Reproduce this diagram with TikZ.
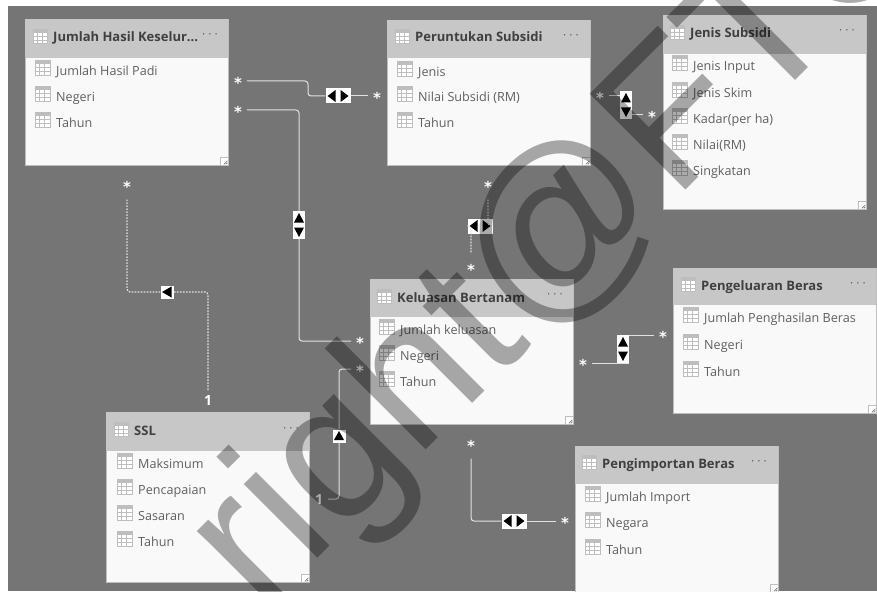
\documentclass[tikz,border=0pt]{standalone}
\usepackage{fontspec}
\setmainfont{Open Sans}
\newfontfamily\wmfont{Liberation Sans}
\newfontfamily\starfont{DejaVu Sans}
\usepackage{xcolor}
\usetikzlibrary{positioning,calc}
\definecolor{canvasgray}{RGB}{117,117,117}
\definecolor{headgray}{RGB}{199,199,199}
\definecolor{bodygray}{RGB}{249,249,249}
\definecolor{titlegray}{RGB}{64,64,64}
\definecolor{fieldgray}{RGB}{96,96,96}
\definecolor{icongray}{RGB}{190,190,190}
\definecolor{relwhite}{RGB}{226,226,226}
\tikzset{
  tablebody/.style={rectangle, anchor=north west, inner sep=0, fill=bodygray, draw=icongray, line width=0.6pt, minimum width=203},
  tablehead/.style={rectangle, anchor=north west, inner sep=0, fill=headgray, minimum width=203},
  sizegrip/.style={rectangle, anchor=south east, inner sep=0, minimum size=8, fill=white, draw=icongray, line width=0.5pt,
    path picture={\draw[fieldgray, line width=0.5pt, shift={(path picture bounding box.center)}] (-0.5,3) -- (3,-0.5) (1.5,3) -- (3,1.5);}},
  tableicon/.style={rectangle, inner sep=0, minimum size=15, yshift=2.5, fill=white, draw=icongray, line width=0.5pt,
    path picture={\begin{scope}[shift={(path picture bounding box.center)}]
      \fill[icongray] (-7.5,-7.5) rectangle (7.5,-3.5);
      \draw[icongray, line width=0.9pt] (-7.5,0) -- (7.5,0) (-7.5,3.7) -- (7.5,3.7) (-2.5,-3.5) -- (-2.5,7.5) (2.5,-3.5) -- (2.5,7.5);
    \end{scope}}},
  titletext/.style={anchor=west, inner sep=0, text height=13, text depth=3, text=titlegray, font=\fontsize{13}{14}\selectfont\bfseries, label={[tableicon, minimum size=14, yshift=-2, label distance=6]left:{}}},
  fieldtext/.style={anchor=west, inner sep=0, text height=14, text depth=3, text=fieldgray, font=\fontsize{12.6}{14}\selectfont, label={[tableicon, label distance=6]left:{}}},
  dotsmark/.style={inner sep=0, text=fieldgray, font=\fontsize{12}{12}\selectfont},
  cardstar/.style={inner sep=0, outer xsep=5pt, outer ysep=7pt, text height=15, text depth=0, text=white, font=\fontsize{15}{15}\starfont\bfseries},
  cardone/.style={inner sep=0, outer sep=5pt, text=white, font=\fontsize{14}{14}\selectfont\bfseries},
  relline/.style={draw=relwhite, line width=1pt, rounded corners=3pt},
  reldot/.style={relline, dash pattern=on 1.6pt off 1.4pt, line width=1.2pt},
  markboth/.style={rectangle, inner sep=0, fill=white, minimum width=25, minimum height=15,
    path picture={\fill[black, shift={(path picture bounding box.center)}] (-10.5,0) -- (-2.5,-6) -- (-2.5,6) -- cycle (10.5,0) -- (2.5,-6) -- (2.5,6) -- cycle;}},
  markvert/.style={rectangle, inner sep=0, fill=white, minimum width=12, minimum height=28,
    path picture={\fill[black, shift={(path picture bounding box.center)}] (0,-12) -- (-5,-2.5) -- (5,-2.5) -- cycle (0,12) -- (-5,2.5) -- (5,2.5) -- cycle;}},
  markleft/.style={rectangle, inner sep=0, fill=white, minimum size=13,
    path picture={\fill[black, shift={(path picture bounding box.center)}] (-5,0) -- (4.5,-5.5) -- (4.5,5.5) -- cycle;}},
  markup/.style={rectangle, inner sep=0, fill=white, minimum size=13,
    path picture={\fill[black, shift={(path picture bounding box.center)}] (0,-5) -- (-5,4) -- (5,4) -- cycle;}},
}

\begin{document}
\begin{tikzpicture}[x=1pt, y=-1pt]
    \useasboundingbox (0,0) rectangle (877,591);
    \fill[canvasgray] (8,6) rectangle (877,591);

    % Define tables
    \node [tablebody, minimum height=146] (hasil) at (25,19) {};
    \node [tablehead, minimum height=39] (hasilhead) at (25,19) {};
    \node [sizegrip] (hasilgrip) at (hasil.south east) {};
    \node [titletext] (hasiltitle) at (53,37) {Jumlah Hasil Keselur...};
    \node [dotsmark] (hasildots) at (210,36) {· · ·};
    \node [fieldtext] (hasil1) at (56,70) {Jumlah Hasil Padi};
    \node [fieldtext] (hasil2) at (56,96) {Negeri};
    \node [fieldtext] (hasil3) at (56,122) {Tahun};

    \node [tablebody, minimum height=145] (agih) at (387,20) {};
    \node [tablehead, minimum height=38] (agihhead) at (387,20) {};
    \node [sizegrip] (agihgrip) at (agih.south east) {};
    \node [titletext] (agihtitle) at (415,37) {Peruntukan Subsidi};
    \node [dotsmark] (agihdots) at (571,37) {· · ·};
    \node [fieldtext] (agih1) at (418,71) {Jenis};
    \node [fieldtext] (agih2) at (418,96) {Nilai Subsidi (RM)};
    \node [fieldtext] (agih3) at (418,122) {Tahun};

    \node [tablebody, minimum height=194] (jenis) at (663,15) {};
    \node [tablehead, minimum height=39] (jenishead) at (663,15) {};
    \node [sizegrip] (jenisgrip) at (jenis.south east) {};
    \node [titletext] (jenistitle) at (690,33) {Jenis Subsidi};
    \node [dotsmark] (jenisdots) at (847,32) {· · ·};
    \node [fieldtext] (jenis1) at (693,65) {Jenis Input};
    \node [fieldtext] (jenis2) at (693,92) {Jenis Skim};
    \node [fieldtext] (jenis3) at (693,118) {Kadar(per ha)};
    \node [fieldtext] (jenis4) at (693,144) {Nilai(RM)};
    \node [fieldtext] (jenis5) at (693,170) {Singkatan};

    \node [tablebody, minimum height=145] (luas) at (370,279) {};
    \node [tablehead, minimum height=38] (luashead) at (370,279) {};
    \node [sizegrip] (luasgrip) at (luas.south east) {};
    \node [titletext] (luastitle) at (397,297) {Keluasan Bertanam};
    \node [dotsmark] (luasdots) at (555,296) {· · ·};
    \node [fieldtext] (luas1) at (400,329) {Jumlah keluasan};
    \node [fieldtext] (luas2) at (400,355) {Negeri};
    \node [fieldtext] (luas3) at (400,381) {Tahun};

    \node [tablebody, minimum height=145] (keluar) at (673,268) {};
    \node [tablehead, minimum height=37] (keluarhead) at (673,268) {};
    \node [sizegrip] (keluargrip) at (keluar.south east) {};
    \node [titletext] (keluartitle) at (701,285) {Pengeluaran Beras};
    \node [dotsmark] (keluardots) at (858,285) {· · ·};
    \node [fieldtext] (keluar1) at (704,317) {Jumlah Penghasilan Beras};
    \node [fieldtext] (keluar2) at (704,344) {Negeri};
    \node [fieldtext] (keluar3) at (704,371) {Tahun};

    \node [tablebody, minimum height=146] (impor) at (575,446) {};
    \node [tablehead, minimum height=38] (imporhead) at (575,446) {};
    \node [sizegrip] (imporgrip) at (impor.south east) {};
    \node [titletext] (importitle) at (602,463) {Pengimportan Beras};
    \node [dotsmark] (impordots) at (759,463) {· · ·};
    \node [fieldtext] (impor1) at (606,496) {Jumlah Import};
    \node [fieldtext] (impor2) at (606,522) {Negara};
    \node [fieldtext] (impor3) at (606,549) {Tahun};

    \node [tablebody, minimum height=170] (ssl) at (106,412) {};
    \node [tablehead, minimum height=39] (sslhead) at (106,412) {};
    \node [sizegrip] (sslgrip) at (ssl.south east) {};
    \node [titletext] (ssltitle) at (134,430) {SSL};
    \node [dotsmark] (ssldots) at (291,430) {· · ·};
    \node [fieldtext] (ssl1) at (138,463) {Maksimum};
    \node [fieldtext] (ssl2) at (138,489) {Pencapaian};
    \node [fieldtext] (ssl3) at (138,515) {Sasaran};
    \node [fieldtext] (ssl4) at (138,541) {Tahun};

    % Define cardinality marks
    \node [cardstar] (hasilA) at (238,81) {*};
    \node [cardstar] (agihA) at (377,96) {*};
    \node [cardstar] (hasilB) at (238,110) {*};
    \node [cardstar] (luasB) at (360,341) {*};
    \node [cardstar] (hasilC) at (127,185) {*};
    \node [cardone] (sslC) at (208,400) {1};
    \node [cardone] (sslD) at (319,499) {1};
    \node [cardstar] (luasD) at (360,369) {*};
    \node [cardstar] (agihE) at (488,185) {*};
    \node [cardstar] (luasE) at (471,268) {*};
    \node [cardstar] (agihF) at (600,96) {*};
    \node [cardstar] (jenisF) at (652,115) {*};
    \node [cardstar] (luasG) at (583,363) {*};
    \node [cardstar] (keluarG) at (663,335) {*};
    \node [cardstar] (luasH) at (471,444) {*};
    \node [cardstar] (imporH) at (565,521) {*};

    % Define filter marks
    \node [markboth] (relagih) at (338,96) {};
    \node [markvert] (relhasil) at (299,225) {};
    \node [markleft] (relssl) at (167,292) {};
    \node [markup] (relluas) at (339,436) {};
    \node [markboth] (relsubsidi) at (480,226) {};
    \node [markvert] (reljenis) at (626,105) {};
    \node [markvert] (relkeluar) at (623,349) {};
    \node [markboth] (relimpor) at (514,521) {};
    \coordinate (bendA) at (308,90);

    % Define connectors
    \draw[relline] (hasilA) -| (bendA) |- (relagih);
    \draw[relline] (relagih) -- (agihA);
    \draw[relline] (hasilB) -| (relhasil);
    \draw[relline] (relhasil) |- (luasB);
    \draw[reldot] (sslC) |- (relssl);
    \draw[reldot] (relssl) -| (hasilC);
    \draw[relline] (sslD) -| (relluas);
    \draw[relline] (relluas) |- (luasD);
    \draw[reldot] (agihE) |- (relsubsidi);
    \draw[reldot] (relsubsidi) -| (luasE);
    \draw[relline] (agihF) -- (agihF -| reljenis.west);
    \draw[relline] (jenisF) -- (jenisF -| reljenis.east);
    \draw[relline] (luasG) -- (luasG -| relkeluar.east);
    \draw[relline] (keluarG) -- (keluarG -| relkeluar.east);
    \draw[relline] (luasH) |- (relimpor);
    \draw[relline] (relimpor) -- (imporH);

    % Watermark over everything
    \node [rotate=45, inner sep=0, text=black, text opacity=0.33, font=\fontsize{197}{197}\wmfont] (stamp) at (570,234) {right@FTO};
\end{tikzpicture}
\end{document}
